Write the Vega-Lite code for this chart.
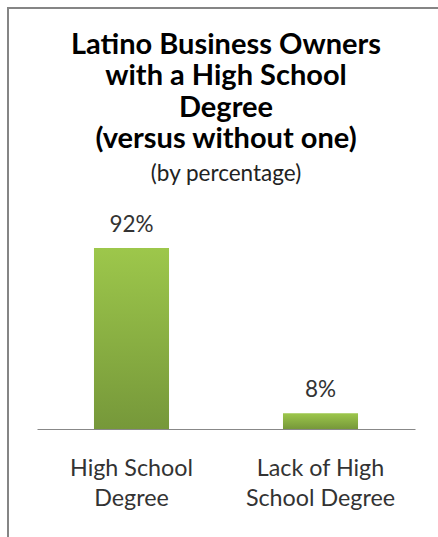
{
  "$schema": "https://vega.github.io/schema/vega-lite/v6.json",
  "autosize": "none",
  "width": 430,
  "height": 529,
  "padding": {"left": 8, "top": 8, "right": 0, "bottom": 0},
  "background": "white",
  "view": {"stroke": "#858585", "strokeWidth": 2, "strokeDash": [430, 959, 529], "fill": null},
  "title": {
    "text": ["Latino Business Owners", "with a High School", "Degree", "(versus without one)"],
    "subtitle": "(by percentage)",
    "font": "Lato",
    "fontSize": 29,
    "fontWeight": "bold",
    "lineHeight": 31.6,
    "color": "#000000",
    "subtitleFont": "Lato",
    "subtitleFontSize": 22.5,
    "subtitleColor": "#222222",
    "subtitlePadding": 8,
    "anchor": "middle",
    "dx": 3,
    "frame": "group",
    "offset": -177
  },
  "data": {
    "values": [
      {"category": "High School Degree", "value": 92, "label": "92%"},
      {"category": "Lack of High School Degree", "value": 8, "label": "8%"}
    ]
  },
  "encoding": {
    "x": {
      "field": "category",
      "type": "nominal",
      "sort": null,
      "scale": {"range": [29, 407], "paddingInner": 0.603, "paddingOuter": 0.3015},
      "axis": {
        "title": null,
        "orient": "bottom",
        "offset": -108,
        "domainColor": "#888888",
        "domainWidth": 1,
        "ticks": false,
        "labelAngle": 0,
        "labelFont": "Lato",
        "labelFontSize": 23.3,
        "labelColor": "#333333",
        "labelPadding": 28,
        "labelLineHeight": 30,
        "labelExpr": "datum.value == 'High School Degree' ? ['High School', 'Degree'] : ['Lack of High', 'School Degree']"
      }
    },
    "y": {
      "field": "value",
      "type": "quantitative",
      "scale": {"domain": [-54.9, 214], "nice": false, "zero": false},
      "axis": null
    }
  },
  "layer": [
    {
      "mark": {
        "type": "bar",
        "color": {
          "gradient": "linear",
          "x1": 0, "y1": 0, "x2": 0, "y2": 1,
          "stops": [
            {"offset": 0, "color": "#9dc74b"},
            {"offset": 1, "color": "#76983a"}
          ]
        }
      },
      "encoding": {
        "y2": {"datum": 0}
      }
    },
    {
      "mark": {"type": "text", "baseline": "alphabetic", "dy": -16, "font": "Lato", "fontSize": 22.5, "color": "#333333"},
      "encoding": {"text": {"field": "label"}}
    }
  ]
}
